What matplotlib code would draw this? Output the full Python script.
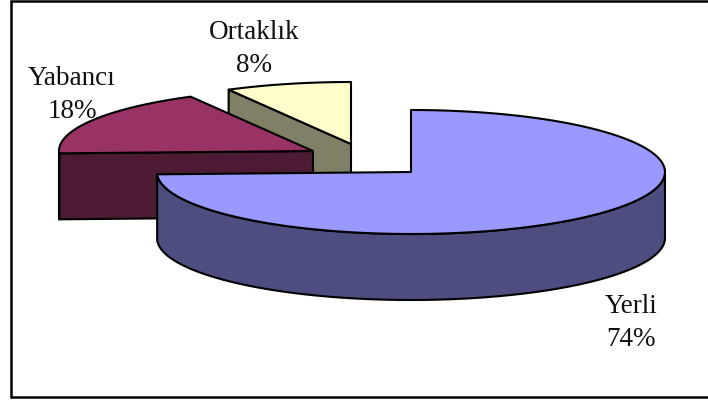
import numpy as np
import matplotlib
matplotlib.use("Agg")
import matplotlib.pyplot as plt
from matplotlib.patches import Polygon, Rectangle

# slice data (labels on the chart are rounded to whole percents)
labels = ["Yerli", "Yabancı", "Ortaklık"]
values = [74.4, 17.6, 8.0]
top_colors = ["#9999ff", "#993366", "#ffffcc"]
side_colors = ["#4d4d80", "#4d1a33", "#808066"]

# exploded centres of each slice (pixels), ellipse radii and wall height
centers = [(411, 173), (313, 152), (351, 145)]
rx, ry = 254, 62
depth = 66
label_pos = [(631, 323), (72, 95), (254, 49)]

plt.rcParams["font.family"] = ["Liberation Serif", "DejaVu Serif"]
fig = plt.figure(figsize=(7.08, 4.02), dpi=100)
ax = fig.add_axes([0, 0, 1, 1])
ax.set_xlim(0, 708)
ax.set_ylim(402, 0)
ax.axis("off")

# the frame runs off the right side of the image
ax.add_patch(Rectangle((11, 2), 720, 396, fc="white", ec="black", lw=1.8, zorder=0))


def rim(cx, cy, a0, a1, dy=0):
    # points on the ellipse between two angles (degrees, counterclockwise)
    t = np.radians(np.linspace(a0, a1, 120))
    return np.column_stack([cx + rx * np.cos(t), cy - ry * np.sin(t) + dy])


# start at 12 o'clock and go clockwise, like the spreadsheet does
angles = 90 - np.cumsum([0] + values) * 3.6
for i in [2, 1, 0]:
    cx, cy = centers[i]
    a0, a1 = angles[i], angles[i + 1]
    z = 3 - i
    style = dict(ec="black", lw=1.5, joinstyle="round", zorder=z)

    # flat wall on the cut edge that faces the viewer
    if np.cos(np.radians(a0)) < -1e-6:
        p = rim(cx, cy, a0, a0)[0]
        wall = [p, (cx, cy), (cx, cy + depth), (p[0], p[1] + depth)]
        ax.add_patch(Polygon(wall, fc=side_colors[i], **style))

    # curved outer wall, only the part facing the viewer
    f0, f1 = min(a0, 0), max(a1, -180)
    if f0 > f1:
        front = rim(cx, cy, f0, f1)
        back = rim(cx, cy, f1, f0, depth)
        ax.add_patch(Polygon(np.vstack([front, back]), fc=side_colors[i], **style))

    # top face
    top = np.vstack([[(cx, cy)], rim(cx, cy, a0, a1)])
    ax.add_patch(Polygon(top, fc=top_colors[i], **style))

for i in range(3):
    ax.text(label_pos[i][0], label_pos[i][1], f"{labels[i]}\n{round(values[i])}%", ha="center",
            va="center", fontsize=19.5, color="#111111", linespacing=1.45, zorder=5)

fig.savefig("out.png", dpi=100)
